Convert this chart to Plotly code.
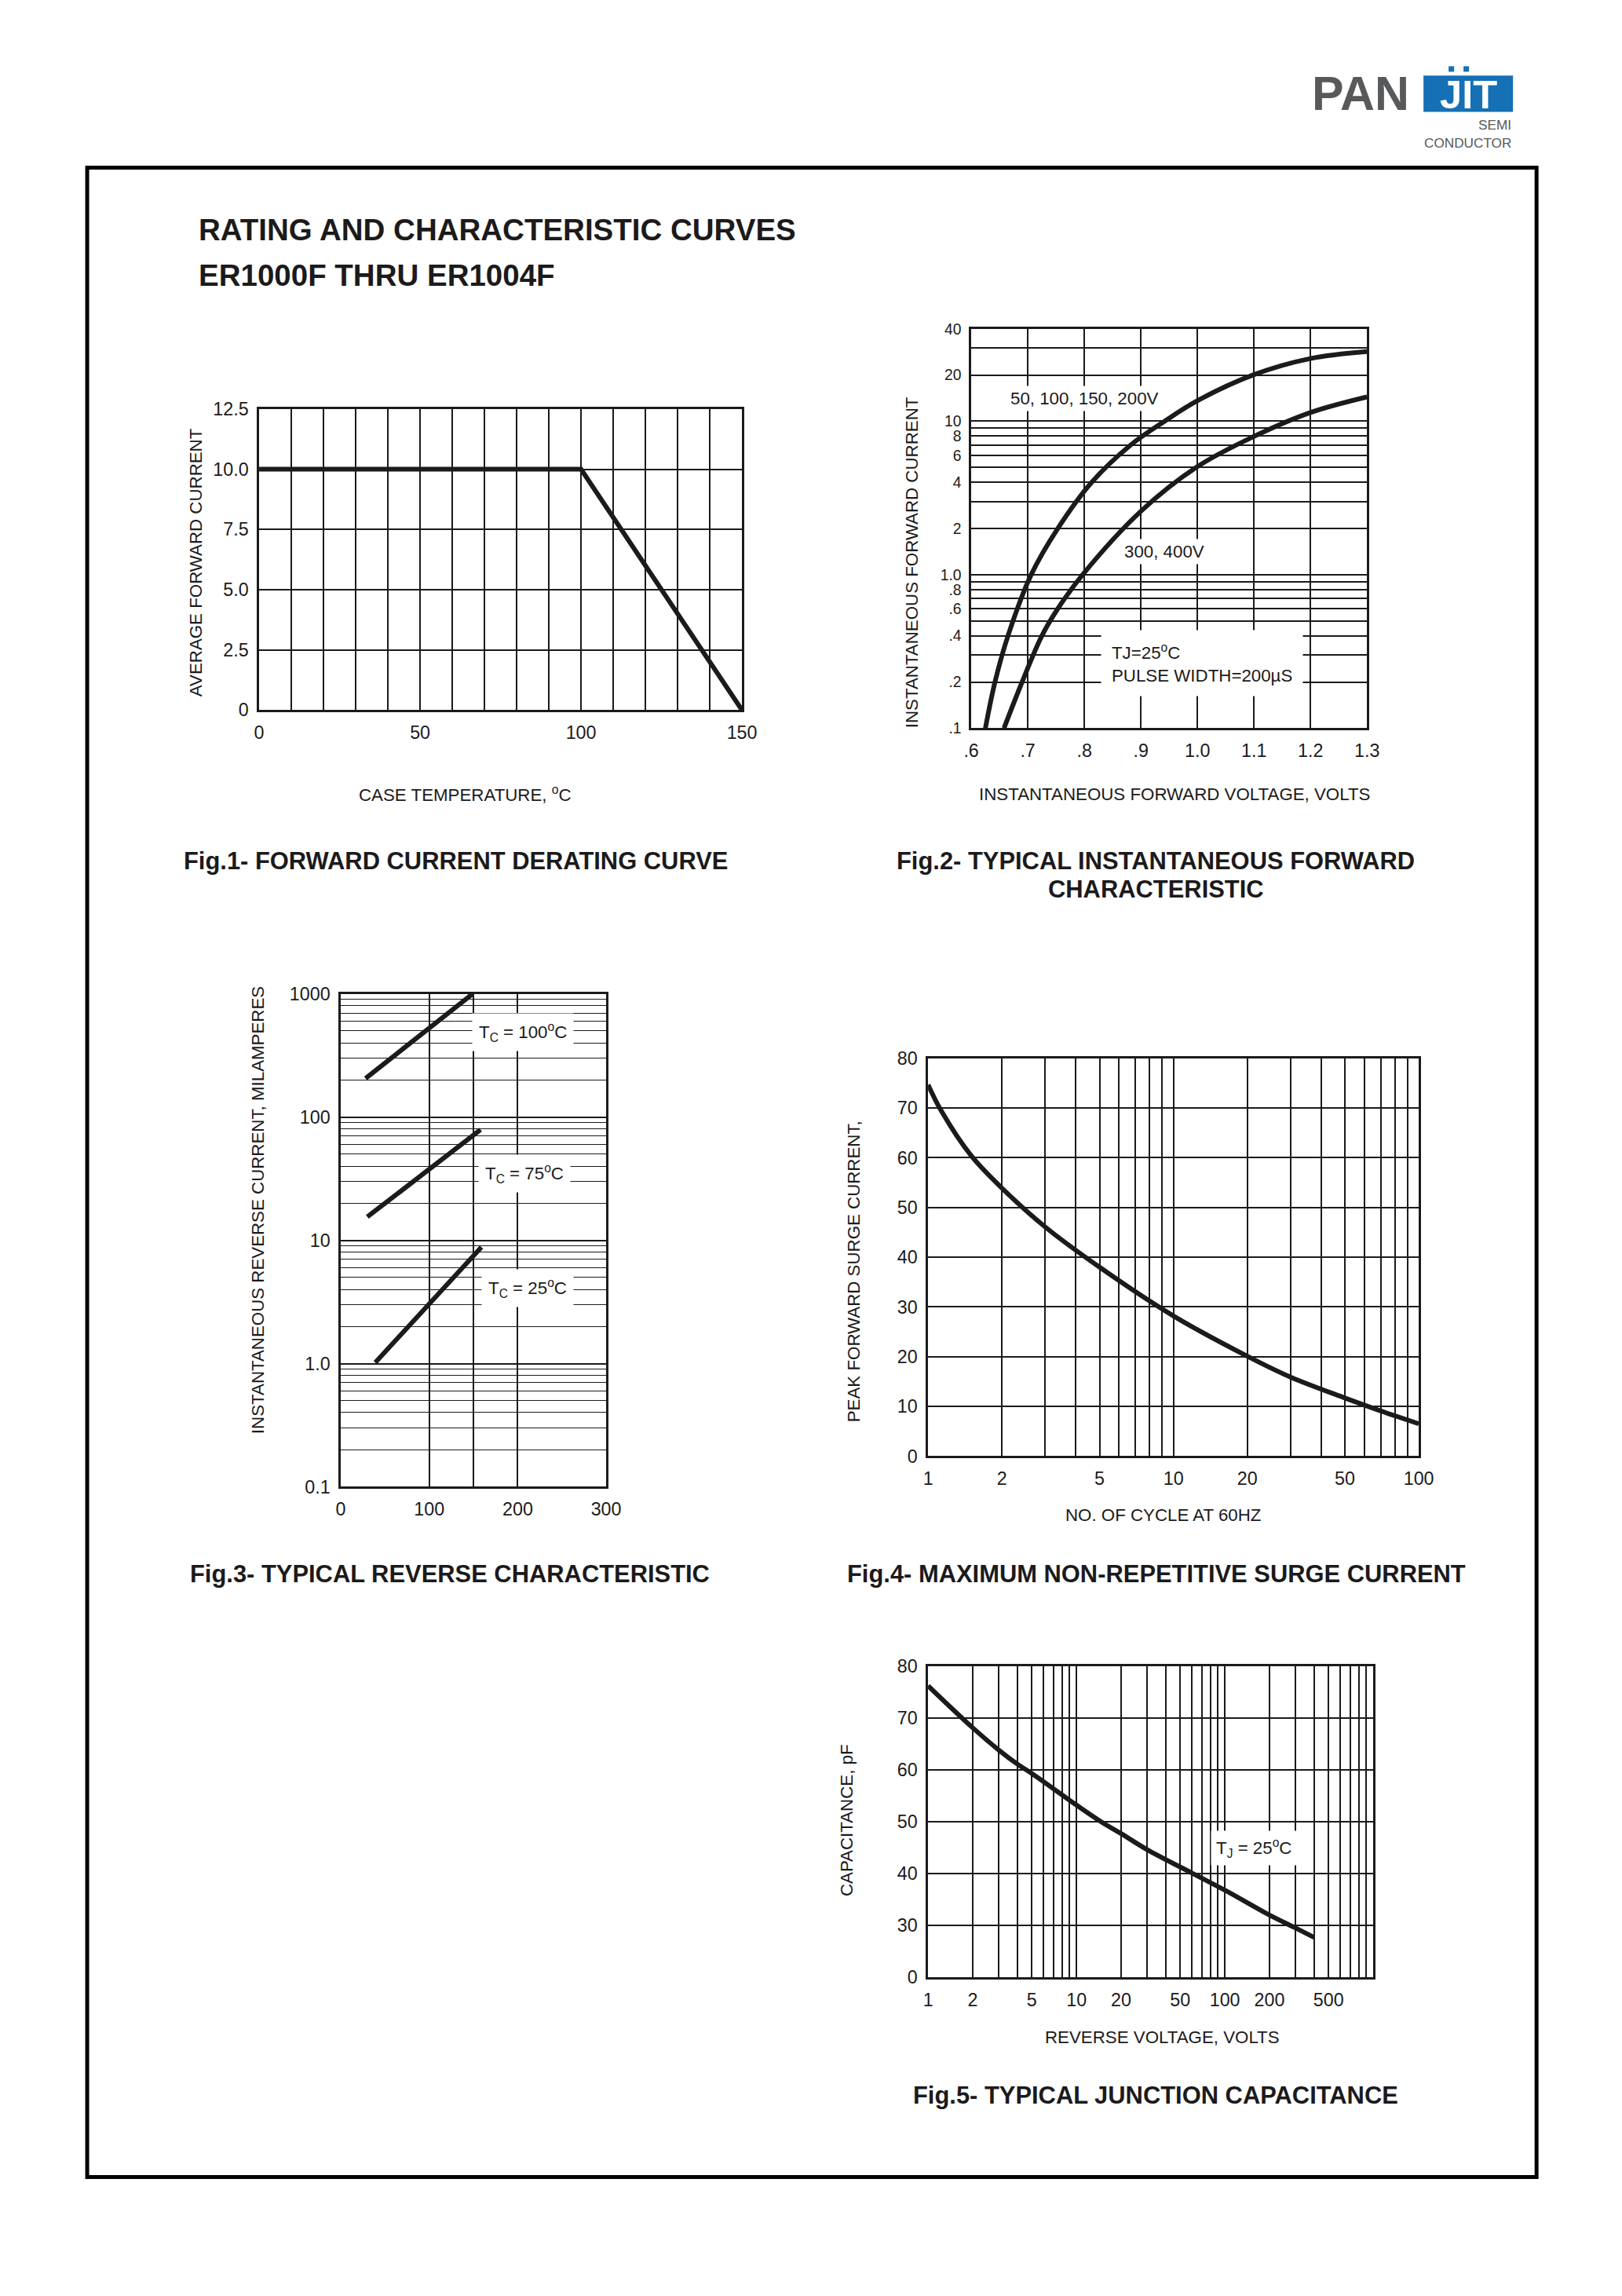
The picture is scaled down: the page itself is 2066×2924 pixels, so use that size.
"""
Datasheet page: rating and characteristic curves for ER1000F thru ER1004F.
"""

import math

import plotly.graph_objects as go

# page size in the reference, and the body margin the browser adds round the plot
W, H = 2066, 2924
PAGE_MARGIN = 8
FIG_W, FIG_H = W - 2 * PAGE_MARGIN, H - 2 * PAGE_MARGIN
# the photographed page comes out slightly shrunk and shifted; measured on a test render
SHOT_SCALE_X, SHOT_SHIFT_X = 0.9858, 9.06
SHOT_SCALE_Y, SHOT_SHIFT_Y = 0.9899, 13.8
FONT_SCALE = 1 / SHOT_SCALE_X

TEXT_FONT = "Liberation Sans, Arial, sans-serif"
BOLD_FONT = "Liberation Sans, Arial, sans-serif"
INK = "#1c1a1b"

# Fig.1 - forward current derating
derate_temp = [0, 100, 150]
derate_current = [10.0, 10.0, 0.0]
fig1_xticks = [0, 50, 100, 150]
fig1_yticks = [0, 2.5, 5.0, 7.5, 10.0, 12.5]
fig1_ytext = ["0", "2.5", "5.0", "7.5", "10.0", "12.5"]

# Fig.2 - instantaneous forward characteristic
vf_low = [0.625, 0.642, 0.665, 0.706, 0.753, 0.813, 0.882, 0.942, 1.000, 1.100, 1.200, 1.300]
if_low = [0.1, 0.2, 0.4, 1.0, 2.0, 4.0, 7.0, 10.0, 13.6, 20.1, 25.6, 28.4]
vf_high = [0.658, 0.690, 0.725, 0.753, 0.797, 0.900, 1.000, 1.100, 1.200, 1.300]
if_high = [0.1, 0.2, 0.4, 0.6, 1.0, 2.59, 5.06, 7.96, 11.4, 14.4]
fig2_xticks = [0.6, 0.7, 0.8, 0.9, 1.0, 1.1, 1.2, 1.3]
fig2_xtext = [".6", ".7", ".8", ".9", "1.0", "1.1", "1.2", "1.3"]
fig2_yticks = [0.1, 0.2, 0.4, 0.6, 0.8, 1, 2, 4, 6, 8, 10, 20, 40]
fig2_ytext = [".1", ".2", ".4", ".6", ".8", "1.0", "2", "4", "6", "8", "10", "20", "40"]
fig2_ygrid = [0.3, 0.5, 0.7, 0.9, 3, 5, 7, 9, 30]

# Fig.3 - reverse characteristic
tc100_v = [28, 149]
tc100_i = [206, 1000]
tc75_v = [30, 158]
tc75_i = [15.5, 79]
tc25_v = [39, 159]
tc25_i = [1.02, 8.8]
fig3_xticks = [0, 100, 200, 300]
fig3_xgrid = [150]
fig3_yticks = [0.1, 1, 10, 100, 1000]
fig3_ytext = ["0.1", "1.0", "10", "100", "1000"]
fig3_ygrid = [m * 10 ** d for d in (-1, 0, 1, 2) for m in range(2, 10)]

# Fig.4 - non-repetitive surge current
cycles = [1, 1.13, 1.5, 2, 3, 5, 10, 20, 30, 50, 70, 100]
surge = [74.7, 69.5, 60.4, 53.9, 46.1, 38.0, 28.2, 20.1, 15.9, 11.7, 9.1, 6.5]
fig4_xticks = [1, 2, 5, 10, 20, 50, 100]
fig4_xgrid = [3, 4, 6, 7, 8, 9, 30, 40, 60, 70, 80, 90]

# Fig.5 - junction capacitance
vr = [1, 2, 3, 4, 5, 10, 15, 20, 30, 60, 100, 200, 300, 400]
cap = [76.2, 68.1, 63.8, 61.1, 59.3, 53.2, 49.8, 47.7, 44.6, 40.1, 36.8, 32.0, 29.5, 27.7]
fig5_xticks = [1, 2, 5, 10, 20, 50, 100, 200, 500]
fig5_xgrid = [3, 4, 6, 7, 8, 9, 30, 40, 60, 70, 80, 90, 300, 400, 600, 700, 800, 900]
fig5_yticks = [20, 30, 40, 50, 60, 70, 80]
fig5_ytext = ["0", "30", "40", "50", "60", "70", "80"]

# plot boxes in page pixels: left, right, top, bottom
BOXES = {
    1: (329, 944, 521, 904),
    2: (1236, 1740, 419, 927),
    3: (433, 771, 1265, 1892),
    4: (1181, 1806, 1347, 1853),
    5: (1181, 1748, 2120, 2516),
}


def px(x):
    page_x = (x - SHOT_SHIFT_X) / SHOT_SCALE_X
    return (page_x - PAGE_MARGIN) / FIG_W


def py(y):
    page_y = (y - SHOT_SHIFT_Y) / SHOT_SCALE_Y
    return 1 - (page_y - PAGE_MARGIN) / FIG_H


def fs(size):
    return round(size * FONT_SCALE, 1)


def base_axis(extra):
    axis = {
        "showline": True,
        "mirror": True,
        "linecolor": INK,
        "linewidth": 2.5,
        "showgrid": True,
        "gridcolor": INK,
        "gridwidth": 2,
        "zeroline": False,
        "ticks": "",
        "ticklabelstandoff": 6,
        "tickfont": {"family": TEXT_FONT, "size": fs(23), "color": INK},
        "fixedrange": True,
    }
    axis.update(extra)
    return axis


def grid_minor(vals):
    return {"tickvals": vals, "showgrid": True, "gridcolor": INK, "gridwidth": 1.6, "ticks": ""}


fig = go.Figure()

line_style = {"color": INK, "width": 6}
curve_style = {**line_style, "shape": "spline", "smoothing": 1.0}
fig.add_trace(go.Scatter(x=derate_temp, y=derate_current, mode="lines", line=line_style, xaxis="x", yaxis="y"))
fig.add_trace(go.Scatter(x=vf_low, y=if_low, mode="lines", line=curve_style, xaxis="x2", yaxis="y2"))
fig.add_trace(go.Scatter(x=vf_high, y=if_high, mode="lines", line=curve_style, xaxis="x2", yaxis="y2"))
for v, i in ((tc100_v, tc100_i), (tc75_v, tc75_i), (tc25_v, tc25_i)):
    fig.add_trace(go.Scatter(x=v, y=i, mode="lines", line=line_style, xaxis="x3", yaxis="y3"))
fig.add_trace(go.Scatter(x=cycles, y=surge, mode="lines", line=curve_style, xaxis="x4", yaxis="y4"))
fig.add_trace(go.Scatter(x=vr, y=cap, mode="lines", line=curve_style, xaxis="x5", yaxis="y5"))

axes = {}
for n, (l, r, t, b) in BOXES.items():
    key = "" if n == 1 else str(n)
    axes["xaxis" + key] = {"domain": [px(l), px(r)], "anchor": "y" + key}
    axes["yaxis" + key] = {"domain": [py(b), py(t)], "anchor": "x" + key}

axes["xaxis"].update(base_axis({
    "range": [0, 150], "tickvals": fig1_xticks,
    "minor": {"dtick": 10, "tick0": 0, "showgrid": True, "gridcolor": INK, "gridwidth": 2, "ticks": ""},
}))
axes["yaxis"].update(base_axis({"range": [0, 12.5], "tickvals": fig1_yticks, "ticktext": fig1_ytext}))

axes["xaxis2"].update(base_axis({"range": [0.6, 1.3], "tickvals": fig2_xticks, "ticktext": fig2_xtext}))
axes["yaxis2"].update(base_axis({
    "type": "log", "range": [-1, math.log10(40)], "tickvals": fig2_yticks, "ticktext": fig2_ytext,
    "minor": grid_minor(fig2_ygrid),
    "tickfont": {"family": TEXT_FONT, "size": fs(19), "color": INK},
}))

axes["xaxis3"].update(base_axis({"range": [0, 300], "tickvals": fig3_xticks, "minor": grid_minor(fig3_xgrid)}))
axes["yaxis3"].update(base_axis({
    "type": "log", "range": [-1, 3], "tickvals": fig3_yticks, "ticktext": fig3_ytext,
    "minor": {**grid_minor(fig3_ygrid), "gridwidth": 1.4},
}))

axes["xaxis4"].update(base_axis({
    "type": "log", "range": [0, 2], "tickvals": fig4_xticks, "ticktext": [str(v) for v in fig4_xticks],
    "minor": grid_minor(fig4_xgrid),
}))
axes["yaxis4"].update(base_axis({"range": [0, 80], "dtick": 10}))

axes["xaxis5"].update(base_axis({
    "type": "log", "range": [0, 3], "tickvals": fig5_xticks, "ticktext": [str(v) for v in fig5_xticks],
    "minor": grid_minor(fig5_xgrid),
}))
axes["yaxis5"].update(base_axis({"range": [20, 80], "tickvals": fig5_yticks, "ticktext": fig5_ytext}))

annotations = []


def page_text(text, x, y, size=22, bold=False, angle=0, xanchor="center", color=INK):
    annotations.append({
        "text": text, "x": px(x), "y": py(y), "xref": "paper", "yref": "paper",
        "showarrow": False, "xanchor": xanchor, "yanchor": "middle", "textangle": angle,
        "font": {"family": BOLD_FONT if bold else TEXT_FONT, "size": fs(size), "color": color,
                 "weight": "bold" if bold else "normal"},
    })


def plot_label(text, axis, x, y, pad=5, align="center", xanchor="center"):
    annotations.append({
        "text": text, "x": x, "y": y, "xref": "x" + axis, "yref": "y" + axis,
        "showarrow": False, "bgcolor": "white", "borderpad": pad, "align": align, "xanchor": xanchor,
        "font": {"family": TEXT_FONT, "size": fs(22), "color": INK},
    })


# page title
page_text("RATING AND CHARACTERISTIC CURVES", 250, 293, size=38, bold=True, xanchor="left")
page_text("ER1000F THRU ER1004F", 250, 351, size=38, bold=True, xanchor="left")

# axis titles
page_text("AVERAGE FORWARD CURRENT", 248, 716, angle=-90)
page_text("CASE TEMPERATURE, <sup>o</sup>C", 591, 1011)
page_text("INSTANTANEOUS FORWARD CURRENT", 1160, 716, angle=-90)
page_text("INSTANTANEOUS FORWARD VOLTAGE, VOLTS", 1495, 1011)
page_text("INSTANTANEOUS REVERSE CURRENT, MILAMPERES", 327, 1540, angle=-90)
page_text("PEAK FORWARD SURGE CURRENT,", 1086, 1618, angle=-90)
page_text("NO. OF CYCLE AT 60HZ", 1480, 1928)
page_text("CAPACITANCE, pF", 1078, 2316, angle=-90)
page_text("REVERSE VOLTAGE, VOLTS", 1479, 2592)

# figure captions
page_text("Fig.1- FORWARD CURRENT DERATING CURVE", 231, 1096, size=30.5, bold=True, xanchor="left")
page_text("Fig.2- TYPICAL INSTANTANEOUS FORWARD", 1139, 1096, size=30.5, bold=True, xanchor="left")
page_text("CHARACTERISTIC", 1471, 1132, size=30.5, bold=True)
page_text("Fig.3- TYPICAL REVERSE CHARACTERISTIC", 239, 2003, size=30.5, bold=True, xanchor="left")
page_text("Fig.4- MAXIMUM NON-REPETITIVE SURGE CURRENT", 1076, 2003, size=30.5, bold=True, xanchor="left")
page_text("Fig.5- TYPICAL JUNCTION CAPACITANCE", 1160, 2666, size=30.5, bold=True, xanchor="left")

# labels inside the plots (log axes take log10 positions)
plot_label("50, 100, 150, 200V", "2", 0.80, math.log10(14.1), pad=3)
plot_label("300, 400V", "2", 0.941, math.log10(1.41), pad=3)
plot_label("TJ=25<sup>o</sup>C<br>PULSE WIDTH=200µS", "2", 0.829, math.log10(0.264), pad=13,
           align="left", xanchor="left")
plot_label("T<sub>C</sub> = 100<sup>o</sup>C", "3", 206, math.log10(490), pad=8)
plot_label("T<sub>C</sub> = 75<sup>o</sup>C", "3", 208, math.log10(35), pad=8)
plot_label("T<sub>C</sub> = 25<sup>o</sup>C", "3", 211, math.log10(4.1), pad=8)
plot_label("T<sub>J</sub> = 25<sup>o</sup>C", "5", math.log10(157), 44.9, pad=6)

# logo
LOGO_GRAY = "#58595b"
LOGO_BLUE = "#1570b5"
page_text("PAN", 1732, 120, size=60, bold=True, color=LOGO_GRAY)
page_text("JIT", 1869, 121, size=50, bold=True, color="white")
page_text("SEMI", 1926, 160, size=17, xanchor="right", color=LOGO_GRAY)
page_text("CONDUCTOR", 1926, 183, size=17, xanchor="right", color=LOGO_GRAY)


def page_rect(x0, y0, x1, y1, **style):
    shape = {"type": "rect", "xref": "paper", "yref": "paper",
             "x0": px(x0), "x1": px(x1), "y0": py(y1), "y1": py(y0)}
    shape.update(style)
    return shape


shapes = [
    page_rect(1812, 97, 1926, 143, fillcolor=LOGO_BLUE, line={"width": 0}, layer="below"),
    page_rect(1844, 85, 1851, 92, fillcolor=LOGO_BLUE, line={"width": 0}),
    page_rect(1863, 85, 1870, 92, fillcolor=LOGO_BLUE, line={"width": 0}),
    # page frame
    page_rect(110, 214, 1956, 2770, line={"color": "black", "width": 5}),
]

fig.update_layout(
    width=FIG_W,
    height=FIG_H,
    margin={"l": 0, "r": 0, "t": 0, "b": 0},
    paper_bgcolor="white",
    plot_bgcolor="white",
    showlegend=False,
    annotations=annotations,
    shapes=shapes,
    **axes,
)

fig.write_html("out.html", config={"displayModeBar": False})
